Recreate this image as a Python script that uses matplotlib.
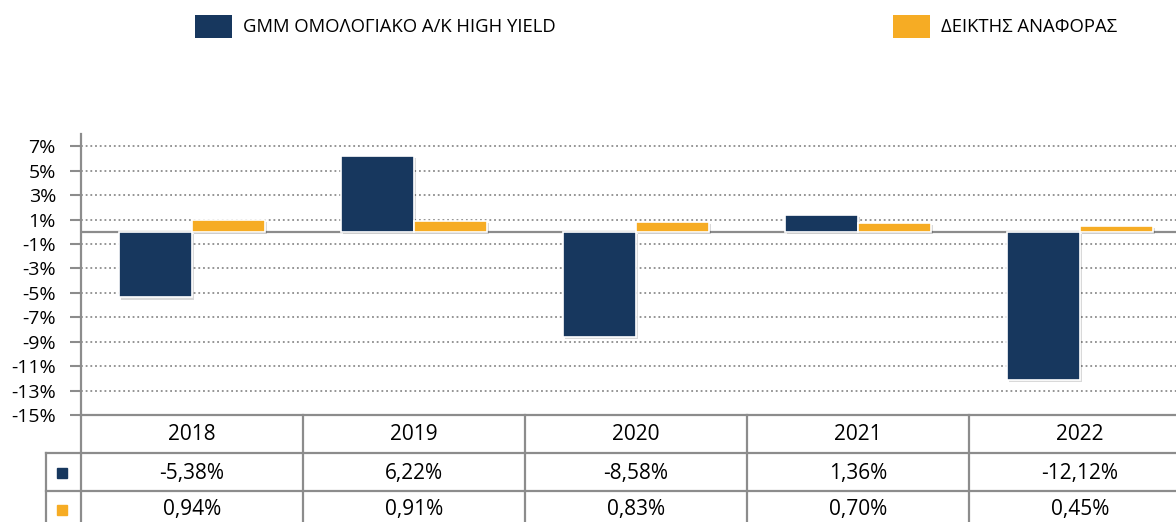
import matplotlib
matplotlib.use("Agg")
import matplotlib.pyplot as plt
from matplotlib.patches import Rectangle
import matplotlib.patheffects as pe

plt.rcParams['font.family'] = ['Open Sans', 'Noto Sans', 'DejaVu Sans']

years = ["2018", "2019", "2020", "2021", "2022"]
fund = [-5.38, 6.22, -8.58, 1.36, -12.12]
bench = [0.94, 0.91, 0.83, 0.70, 0.45]
series_names = ["GMM ΟΜΟΛΟΓΙΑΚΟ Α/Κ HIGH YIELD", "ΔΕΙΚΤΗΣ ΑΝΑΦΟΡΑΣ"]
yticks = list(range(-15, 8, 2))
ytick_labels = [f"{t}%" for t in yticks]

NAVY = "#17375E"
ORANGE = "#F6AC24"
GRID = "#8C8C8C"

W, H = 1176, 522
fig = plt.figure(figsize=(W / 100, H / 100), dpi=100)
ax_l, ax_r, ax_t, ax_b = 81, 1191, 134, 415
ax = fig.add_axes([ax_l / W, 1 - ax_b / H, (ax_r - ax_l) / W, (ax_b - ax_t) / H])
ax.set_xlim(-0.5, len(years) - 0.5)
ax.set_ylim(-15, 8)

bw = 0.33
xs = list(range(len(years)))
shadow = [pe.SimplePatchShadow(offset=(1.5, -1.5), shadow_rgbFace="#000000", alpha=0.15), pe.Normal()]
b1 = ax.bar([x - bw / 2 for x in xs], fund, width=bw, color=NAVY, edgecolor="white", linewidth=1.2, zorder=3)
b2 = ax.bar([x + bw / 2 for x in xs], bench, width=bw, color=ORANGE, edgecolor="white", linewidth=1.2, zorder=3)
for p in list(b1) + list(b2):
    p.set_path_effects(shadow)

for t in yticks:
    if t > -15:
        ax.axhline(t, color=GRID, lw=1.3, ls=(0, (1, 1.6)), zorder=1)
ax.axhline(0, color=GRID, lw=1.6, zorder=2)

ax.set_yticks(yticks)
ax.set_yticklabels(ytick_labels, fontsize=14)
ax.tick_params(axis='y', length=8, width=1.5, color=GRID, pad=10)
ax.set_xticks([])
for s in ["top", "right"]:
    ax.spines[s].set_visible(False)
for s in ["left", "bottom"]:
    ax.spines[s].set_color(GRID)
    ax.spines[s].set_linewidth(1.6)

# data table below axes
tr = ax.get_xaxis_transform()
def yf(py):
    return (ax_b - py) / (ax_b - ax_t)

row_lines = [453, 491]
row_centers = [435, 473, 510]
left_x = -0.5 - 35 / 222
line_kw = dict(color=GRID, lw=1.6, transform=tr, clip_on=False)
for py in row_lines:
    ax.plot([left_x, len(years) - 0.5], [yf(py), yf(py)], **line_kw)
for i in range(len(years) + 1):
    ax.plot([i - 0.5, i - 0.5], [yf(ax_b), yf(H + 5)], **line_kw)
ax.plot([left_x, left_x], [yf(row_lines[0]), yf(H + 5)], **line_kw)

for i, yr in enumerate(years):
    ax.text(i, yf(row_centers[0]), yr, ha="center", va="center", fontsize=15, transform=tr, clip_on=False)
    ax.text(i, yf(row_centers[1]), f"{fund[i]:.2f}%".replace(".", ","), ha="center", va="center",
            fontsize=15, transform=tr, clip_on=False)
    ax.text(i, yf(row_centers[2]), f"{bench[i]:.2f}%".replace(".", ","), ha="center", va="center",
            fontsize=15, transform=tr, clip_on=False)
mx = -0.5 - 19 / 222
ax.plot([mx], [yf(row_centers[1])], marker="s", ms=7, color=NAVY, transform=tr, clip_on=False)
ax.plot([mx], [yf(row_centers[2])], marker="s", ms=7, color=ORANGE, transform=tr, clip_on=False)

# legend at top
for (x0, col, name) in [(195, NAVY, series_names[0]), (893, ORANGE, series_names[1])]:
    fig.patches.append(Rectangle((x0 / W, 1 - 38 / H), 37 / W, 23 / H, transform=fig.transFigure,
                                 facecolor=col, edgecolor="none"))
    fig.text((x0 + 48) / W, 1 - 27 / H, name, ha="left", va="center", fontsize=13.3)

fig.savefig("out.png", dpi=100)
